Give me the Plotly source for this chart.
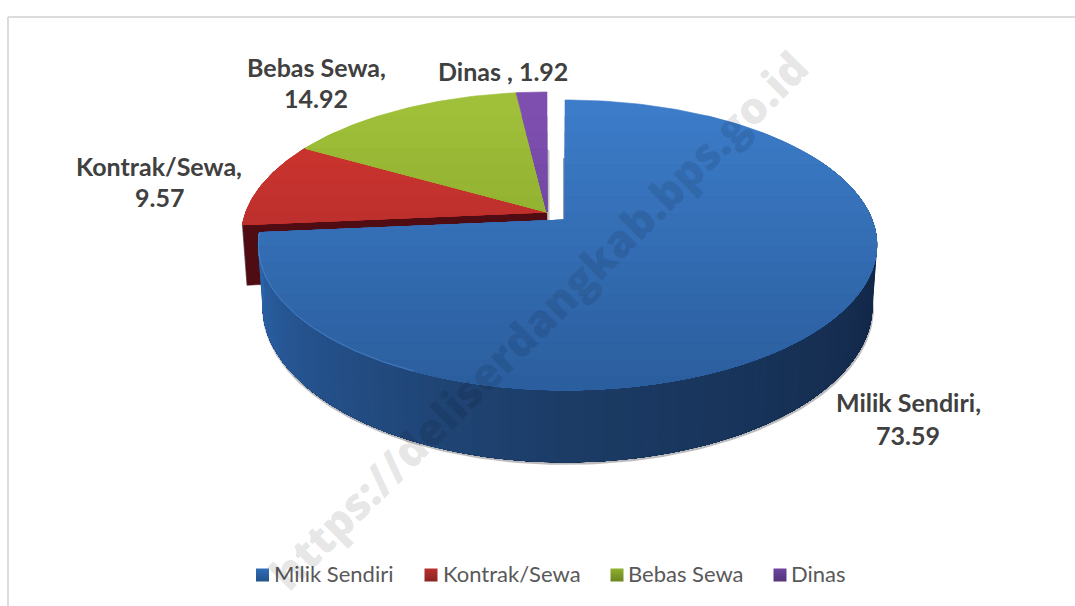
import math
import plotly.graph_objects as go

categories = ["Milik Sendiri", "Kontrak/Sewa", "Bebas Sewa", "Dinas"]
values = [73.59, 9.57, 14.92, 1.92]
value_labels = ["73.59", "9.57", "14.92", "1.92"]
watermark = "https://deliserdangkab.bps.go.id"

top_colors = [("#3c7cc9", "#2b5e9e"), ("#d2352f", "#a02a2a"), ("#a0c03a", "#7b9a22"), ("#7f4fb0", "#5c3a8e")]
marker_colors = ["#2f6db8", "#b8302e", "#8fb02e", "#6f45a0"]
side_stops = [(60, "#12284a"), (110, "#13294a"), (180, "#1c3c66"), (225, "#245089"), (265, "#2c66ad")]
TEXT_DARK = "#404040"
TEXT_LEGEND = "#595959"
FONT = "Lato"

# Perspective model of the tilted disc, in pixels of the 1075x606 page
K = 0.172
A = 140.7
RX_MAIN = (307, 302)   # right half, left half
RX_REST = (304, 301)
DEPTH = 59.6
BOTTOM_X = 0.985
MAIN_C = (565, 220)
REST_C = (547, 212)
Y_TOP, Y_BOTTOM = 100, 392


def point(center, rx, deg, lower=False):
    t = math.radians(deg)
    w = -math.cos(t)
    s = 1 / (1 - K * w)
    u = math.sin(t)
    r = rx[0] if u >= 0 else rx[1]
    x = center[0] + r * u * s * (BOTTOM_X if lower else 1)
    y = center[1] + A * w * s + (DEPTH * s if lower else 0)
    return x, y


def arc(center, rx, a, b, lower=False, step=1.0):
    n = max(2, int(abs(b - a) / step) + 1)
    return [point(center, rx, a + (b - a) * i / (n - 1), lower) for i in range(n)]


def mix(c1, c2, f):
    p = [int(c1[i:i + 2], 16) for i in (1, 3, 5)]
    q = [int(c2[i:i + 2], 16) for i in (1, 3, 5)]
    return "#%02x%02x%02x" % tuple(round(u + (v - u) * f) for u, v in zip(p, q))


def clip_below(poly, level):
    out = []
    for i, cur in enumerate(poly):
        nxt = poly[(i + 1) % len(poly)]
        if cur[1] >= level:
            out.append(cur)
        if (cur[1] >= level) != (nxt[1] >= level):
            f = (level - cur[1]) / (nxt[1] - cur[1])
            out.append((cur[0] + (nxt[0] - cur[0]) * f, level))
    return out


fig = go.Figure()


def fill(poly, color):
    fig.add_trace(go.Scatter(
        x=[p[0] for p in poly] + [poly[0][0]], y=[p[1] for p in poly] + [poly[0][1]],
        mode="lines", fill="toself", fillcolor=color,
        line=dict(color=color, width=0.6), hoverinfo="skip", showlegend=False))


def stroke(pts, color, width):
    fig.add_trace(go.Scatter(
        x=[p[0] for p in pts], y=[p[1] for p in pts], mode="lines",
        line=dict(color=color, width=width), hoverinfo="skip", showlegend=False))


def gradient_face(poly, c_top, c_bottom, steps=18):
    for i in range(steps):
        level = Y_TOP + (Y_BOTTOM - Y_TOP) * i / steps
        part = clip_below(poly, level) if i else poly
        if len(part) > 2:
            fill(part, mix(c_top, c_bottom, i / (steps - 1)))


def side_color(deg):
    for (a, ca), (b, cb) in zip(side_stops, side_stops[1:]):
        if a <= deg <= b:
            return mix(ca, cb, (deg - a) / (b - a))
    return side_stops[0][1] if deg < side_stops[0][0] else side_stops[-1][1]


# slice angles, clockwise from twelve o'clock
total = sum(values)
edges = [0.0]
for v in values:
    edges.append(edges[-1] + v / total * 360)

# soft shadow under the outer wall
main_end = edges[1]
shadow = [(x + 0.5, y + 1.5) for x, y in arc(MAIN_C, RX_MAIN, 70, main_end, lower=True)]
stroke(shadow, "rgba(60,60,70,0.35)", 3)

# the pulled-out slices: dark cut face, then top faces
kp = point(REST_C, RX_REST, edges[1])
kl = point(REST_C, RX_REST, edges[1], lower=True)
fill([REST_C, kp, kl, (REST_C[0], REST_C[1] + DEPTH)], "#4f0c12")
stroke([kp, kl], "rgba(60,60,70,0.25)", 1.5)
for i in (1, 2, 3):
    poly = [REST_C] + arc(REST_C, RX_REST, edges[i], edges[i + 1])
    gradient_face(poly, *top_colors[i])

# shadows along the gap
stroke([(REST_C[0] + 1.5, REST_C[1] + 8), (REST_C[0] + 1.5, REST_C[1] - 62)], "rgba(90,90,100,0.35)", 2)
stroke([(MAIN_C[0] - 1, MAIN_C[1]), (MAIN_C[0] - 1, MAIN_C[1] - 62)], "rgba(20,40,70,0.6)", 1.5)

# main slice: outer wall, painted back to front so no seams show
deg = 60.0
while deg < main_end:
    wall = arc(MAIN_C, RX_MAIN, deg, main_end) + arc(MAIN_C, RX_MAIN, main_end, deg, lower=True)
    fill(wall, side_color(deg))
    deg += 1.5

# main slice: top face and its light rim
gradient_face([MAIN_C] + arc(MAIN_C, RX_MAIN, edges[0], edges[1]), *top_colors[0])
stroke(arc(MAIN_C, RX_MAIN, 205, main_end), "rgba(90,150,215,0.45)", 1.0)

# legend row
leg_marks = [262.5, 431, 617, 780]
leg_texts = [272, 441, 626, 789]
for i, cat in enumerate(categories):
    fig.add_trace(go.Scatter(
        x=[leg_marks[i]], y=[575], mode="markers", hoverinfo="skip", showlegend=False,
        marker=dict(symbol="square", size=13, color=marker_colors[i], line=dict(width=0),
                    gradient=dict(type="vertical", color=mix(marker_colors[i], "#000000", 0.25)))))

fig.update_layout(
    width=1075, height=606, margin=dict(l=0, r=0, t=0, b=0),
    paper_bgcolor="#ffffff", plot_bgcolor="#ffffff", showlegend=False,
    xaxis=dict(range=[0, 1075], visible=False, fixedrange=True),
    yaxis=dict(range=[606, 0], visible=False, fixedrange=True),
    shapes=[
        dict(type="line", xref="paper", yref="paper", x0=8 / 1075, x1=1, y0=1 - 17 / 606, y1=1 - 17 / 606,
             line=dict(color="#dcdcdc", width=2)),
        dict(type="line", xref="paper", yref="paper", x0=8 / 1075, x1=8 / 1075, y0=0, y1=1 - 17 / 606,
             line=dict(color="#dcdcdc", width=2)),
    ],
)


def label(text, x, y, bold=True, size=25, color=TEXT_DARK, anchor="center"):
    fig.add_annotation(x=x, y=y, xref="x", yref="y", text=f"<b>{text}</b>" if bold else text,
                       showarrow=False, xanchor=anchor, yanchor="middle",
                       font=dict(family=FONT, size=size, color=color))


label(categories[0] + ",", 908, 402)
label(value_labels[0], 908, 435)
label(categories[1] + ",", 159, 166)
label(value_labels[1], 159, 197)
label(categories[2] + ",", 316, 67)
label(value_labels[2], 316, 98)
label(f"{categories[3]} , {value_labels[3]}", 503, 71)
for i, cat in enumerate(categories):
    label(cat, leg_texts[i], 573, bold=False, size=22, color=TEXT_LEGEND, anchor="left")

fig.add_annotation(x=538, y=320, xref="x", yref="y", text=watermark, showarrow=False,
                   textangle=-45, font=dict(family="Open Sans", size=44, weight=800, color="rgba(0,0,0,0.11)"))

fig.write_html("out.html", config={"displayModeBar": False},
               post_script="document.body.style.margin='0';document.body.style.overflow='hidden';")
